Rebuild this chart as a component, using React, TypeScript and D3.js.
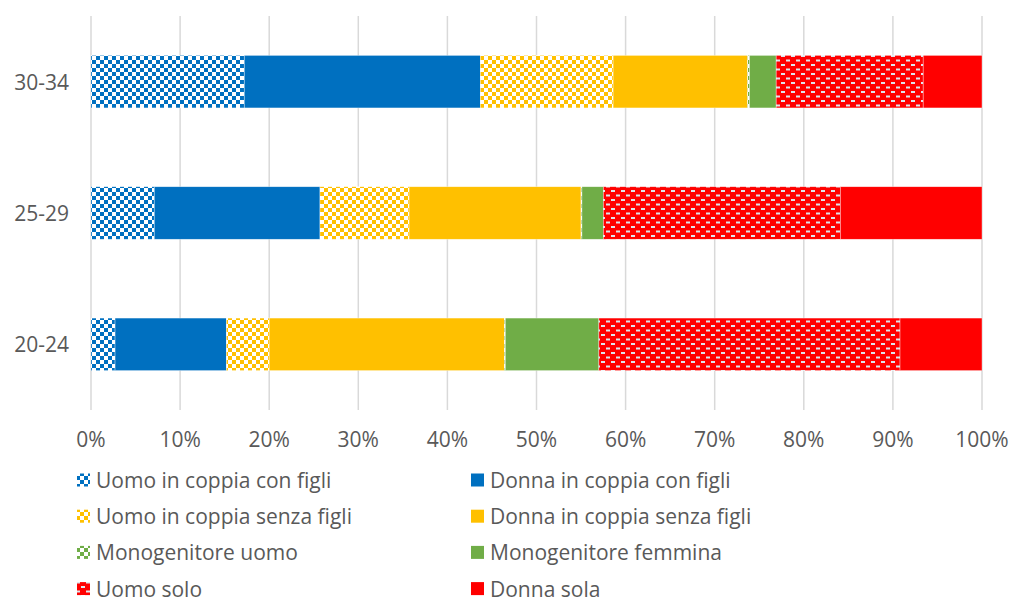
import React from 'react';
import * as d3 from 'd3';

const categories = ['30-34', '25-29', '20-24'];
const seriesNames = [
  'Uomo in coppia con figli',
  'Donna in coppia con figli',
  'Uomo in coppia senza figli',
  'Donna in coppia senza figli',
  'Monogenitore uomo',
  'Monogenitore femmina',
  'Uomo solo',
  'Donna sola',
];
// percentages per category (30-34, 25-29, 20-24)
const uomoConFigli = [17.2, 7.1, 2.7];
const donnaConFigli = [26.5, 18.6, 12.5];
const uomoSenzaFigli = [14.9, 10.0, 4.8];
const donnaSenzaFigli = [15.1, 19.3, 26.4];
const monoUomo = [0.2, 0.1, 0.1];
const monoFemmina = [3.0, 2.4, 10.5];
const uomoSolo = [16.5, 26.6, 33.8];
const donnaSola = [6.6, 15.9, 9.2];
const xTicks = [0, 10, 20, 30, 40, 50, 60, 70, 80, 90, 100];

const allValues = [uomoConFigli, donnaConFigli, uomoSenzaFigli, donnaSenzaFigli, monoUomo, monoFemmina, uomoSolo, donnaSola];
const colors = ['#0070C0', '#0070C0', '#FFC000', '#FFC000', '#70AD47', '#70AD47', '#FF0000', '#FF0000'];
const patterned = [true, false, true, false, true, false, 'dash', false];

const W = 1011;
const H = 598;
const font = '"Open Sans", "Noto Sans", sans-serif';

export default function App() {
  const x = d3.scaleLinear().domain([0, 100]).range([91, 982]);
  const y = d3.scaleBand().domain(categories).range([16, 410]).paddingInner(0.6).paddingOuter(0.3);

  const rows = categories.map((c, i) => {
    const o: Record<string, number | string> = { cat: c };
    seriesNames.forEach((s, j) => (o[s] = allValues[j][i]));
    return o;
  });
  const stack = d3.stack<any>().keys(seriesNames);
  const layers = stack(rows as any);

  const fillFor = (j: number) => (patterned[j] ? `url(#pat${j})` : colors[j]);

  return (
    <svg width={W} height={H} style={{ position: 'absolute', left: 0, top: 0 }}>
      <defs>
        {seriesNames.map((_, j) => {
          if (patterned[j] === 'dash') {
            return (
              <pattern key={j} id={`pat${j}`} patternUnits="userSpaceOnUse" width={10} height={9}>
                <rect width={10} height={9} fill={colors[j]} />
                <rect x={1} y={1} width={4} height={2} fill="#dde6ee" />
                <rect x={6} y={5.5} width={4} height={2} fill="#dde6ee" />
              </pattern>
            );
          }
          if (patterned[j]) {
            return (
              <pattern key={j} id={`pat${j}`} patternUnits="userSpaceOnUse" width={8} height={8}>
                <rect width={8} height={8} fill="#ffffff" />
                <rect x={0} y={0} width={4} height={4} fill={colors[j]} />
                <rect x={4} y={4} width={4} height={4} fill={colors[j]} />
              </pattern>
            );
          }
          return null;
        })}
      </defs>
      <rect width={W} height={H} fill="#ffffff" />
      {xTicks.map((t) => (
        <line key={t} x1={x(t)} x2={x(t)} y1={16} y2={410} stroke="#d9d9d9" strokeWidth={1.5} />
      ))}
      {layers.map((layer, j) => (
        <g key={j} fill={fillFor(j)}>
          {layer.map((d, i) => (
            <rect
              key={i}
              x={x(d[0])}
              y={y(categories[i])}
              width={Math.max(0, x(d[1]) - x(d[0]))}
              height={y.bandwidth()}
              stroke="#ffffff"
              strokeOpacity={0.6}
              strokeWidth={0.6}
            />
          ))}
        </g>
      ))}
      {categories.map((c) => (
        <text
          key={c}
          x={69}
          y={(y(c) as number) + y.bandwidth() / 2}
          textAnchor="end"
          dominantBaseline="central"
          fontFamily={font}
          fontSize={21}
          fill="#595959"
        >
          {c}
        </text>
      ))}
      {xTicks.map((t) => (
        <text
          key={t}
          x={x(t)}
          y={439}
          textAnchor="middle"
          dominantBaseline="central"
          fontFamily={font}
          fontSize={21}
          fill="#595959"
        >
          {`${t}%`}
        </text>
      ))}
      {seriesNames.map((s, j) => {
        const col = j % 2;
        const row = Math.floor(j / 2);
        const lx = col === 0 ? 77 : 471;
        const ly = 480 + row * 36.2;
        return (
          <g key={s}>
            <rect x={lx} y={ly - 6.5} width={13} height={13} fill={fillFor(j)} />
            <text x={lx + 19} y={ly} dominantBaseline="central" fontFamily={font} fontSize={21} fill="#595959">
              {s}
            </text>
          </g>
        );
      })}
    </svg>
  );
}
